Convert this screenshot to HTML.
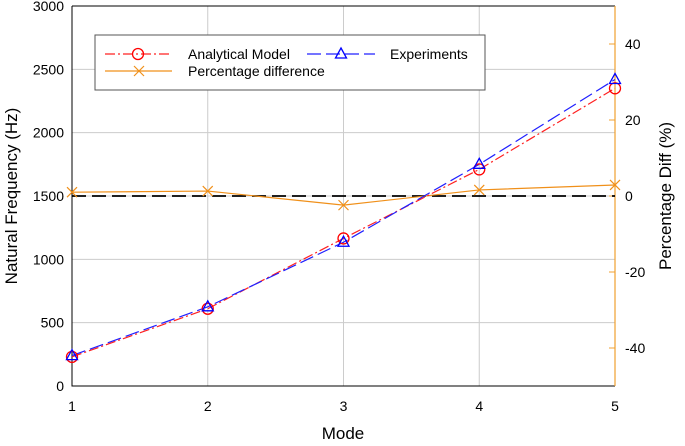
<!DOCTYPE html>
<html><head><meta charset="utf-8"><style>
body{margin:0;background:#fff}
svg{font-family:"Liberation Sans",Arial,sans-serif}
</style></head><body>
<svg id="c" width="685" height="441"></svg>
<script>
const modes=[1,2,3,4,5];
const analytical=[230,610,1165,1710,2350];
const experiments=[240,625,1135,1750,2420];
const pctDiff=[1.0,1.3,-2.4,1.6,2.9];
const yTicks=[0,500,1000,1500,2000,2500,3000];
const y2Ticks=[-40,-20,0,20,40];
const NS="http://www.w3.org/2000/svg";
const svg=document.getElementById('c');
const L=72,R=615,T=6,B=386;
const x=m=>L+(m-1)/4*(R-L);
const y=v=>B-v/3000*(B-T);
const y2=v=>B-(v+50)/100*(B-T);
function el(t,a,p){const e=document.createElementNS(NS,t);for(const k in a)e.setAttribute(k,a[k]);(p||svg).appendChild(e);return e;}
// grid
yTicks.forEach(v=>{const g=el('line',{x1:L,x2:R,y1:y(v),y2:y(v),stroke:'#ccc','stroke-width':1});


const t=el('text',{x:L-8,y:y(v)+5,'text-anchor':'end','font-size':14});t.textContent=v;

});
modes.forEach(m=>{const g=el('line',{x1:x(m),x2:x(m),y1:T,y2:B,stroke:'#ccc','stroke-width':1});


const t=el('text',{x:x(m),y:B+25,'text-anchor':'middle','font-size':14});t.textContent=m;

});
y2Ticks.forEach(v=>{const k=el('line',{x1:R-6,x2:R,y1:y2(v),y2:y2(v),stroke:'#f0a030'});


const t=el('text',{x:R+10,y:y2(v)+5,'font-size':14});t.textContent=v;

});
// axes
const ax=el('path',{d:`M${L},${T}V${B}H${R}`,fill:'none',stroke:'#000','stroke-width':1});

el('line',{x1:L,x2:R,y1:T,y2:T,stroke:'#000'});
const ra=el('line',{x1:R,x2:R,y1:T,y2:B,stroke:'#f0a030','stroke-width':1.2});

// zero line
const z=el('line',{x1:L,x2:R,y1:y2(0),y2:y2(0),stroke:'#000','stroke-width':1.8,'stroke-dasharray':'14,6'});

// series
function line(vals,fy,col,dash,name){const p=el('polyline',{points:vals.map((v,i)=>x(modes[i])+','+fy(v)).join(' '),fill:'none',stroke:col,'stroke-width':1.2,'stroke-dasharray':dash});
}
line(pctDiff,y2,'#f0901a','none','percentage-difference-line');
line(analytical,y,'#ff2020','10,3,2,3','analytical-model-line');
line(experiments,y,'#2020ff','14,5','experiments-line');
function cross(cx,cy,g){el('path',{d:`M${cx-5},${cy-5}L${cx+5},${cy+5}M${cx-5},${cy+5}L${cx+5},${cy-5}`,stroke:'#f0901a','stroke-width':1.2},g);}
function circ(cx,cy,g){el('circle',{cx,cy,r:5.5,fill:'none',stroke:'#ff0000','stroke-width':1.3},g);}
function tri(cx,cy,g){el('path',{d:`M${cx},${cy-6}L${cx+5.5},${cy+4}L${cx-5.5},${cy+4}Z`,fill:'none',stroke:'#0000ff','stroke-width':1.3},g);}
pctDiff.forEach((v,i)=>{const g=el('g',{});cross(x(modes[i]),y2(v),g);});
analytical.forEach((v,i)=>{const g=el('g',{});circ(x(modes[i]),y(v),g);});
experiments.forEach((v,i)=>{const g=el('g',{});tri(x(modes[i]),y(v),g);});
// legend
const lg=el('g',{});
el('rect',{x:95,y:35,width:390,height:55,fill:'#fff',stroke:'#555','stroke-width':1},lg);
el('line',{x1:105,x2:170,y1:54,y2:54,stroke:'#ff2020','stroke-dasharray':'10,3,2,3','stroke-width':1.2},lg);circ(138,54,lg);
el('line',{x1:307,x2:375,y1:54,y2:54,stroke:'#2020ff','stroke-dasharray':'14,5','stroke-width':1.2},lg);tri(341,54,lg);
el('line',{x1:105,x2:172,y1:71,y2:71,stroke:'#f0901a','stroke-width':1.2},lg);cross(139,71,lg);
[['Analytical Model',188,59],['Experiments',390,59],['Percentage difference',188,76]].forEach(a=>{const t=el('text',{x:a[1],y:a[2],'font-size':14},lg);t.textContent=a[0];});
// axis titles
const xt=el('text',{x:343,y:439,'text-anchor':'middle','font-size':17});xt.textContent='Mode';
const yt=el('text',{transform:'translate(17,196) rotate(-90)','text-anchor':'middle','font-size':17});yt.textContent='Natural Frequency (Hz)';
const y2t=el('text',{transform:'translate(671,196) rotate(-90)','text-anchor':'middle','font-size':17});y2t.textContent='Percentage Diff (%)';
</script>
</body></html>
